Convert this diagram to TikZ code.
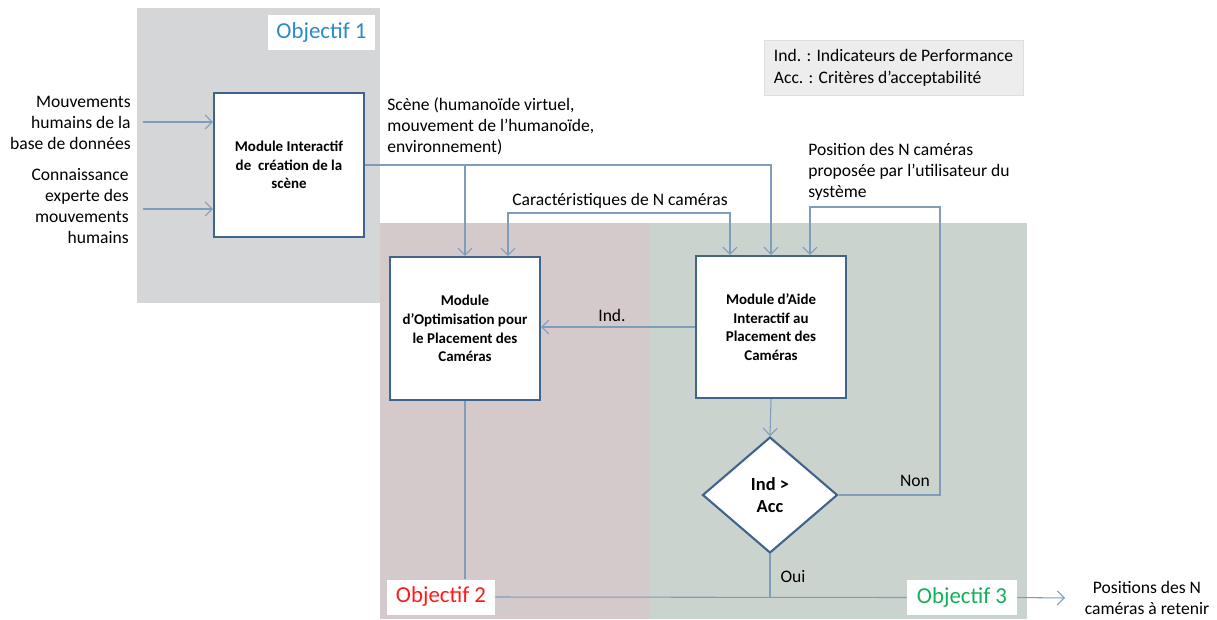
\documentclass[tikz,border=0pt]{standalone}
\usepackage{fontspec}
\setmainfont{Carlito}
\usetikzlibrary{arrows.meta,shapes.geometric}
\definecolor{zoneA}{HTML}{D5D6D8}
\definecolor{zoneB}{HTML}{D5CACB}
\definecolor{zoneC}{HTML}{CBD3CF}
\definecolor{boxLine}{HTML}{41648C}
\definecolor{wireBlue}{HTML}{7F9CBA}
\definecolor{objBlue}{HTML}{2A8AC8}
\definecolor{objRed}{HTML}{FF1A1A}
\definecolor{objGreen}{HTML}{12B05A}
\newcommand{\plainSize}{\fontsize{10}{12}\selectfont}
\newcommand{\boxSize}{\fontsize{8.5}{10.6}\selectfont}

\begin{document}
\begin{tikzpicture}[x=0.02cm, y=-0.02cm]
  \tikzset{module/.style={draw=boxLine, line width=1.2pt, fill=white,
             minimum width=3cm, align=center, font=\boxSize\bfseries, inner sep=2pt},
           decision/.style={diamond, draw=boxLine, line width=1.2pt, fill=white,
             minimum width=2.7cm, minimum height=2.32cm, align=center,
             font=\fontsize{10.5}{12.5}\selectfont\bfseries, inner sep=1pt},
           objbox/.style={fill=white, minimum width=2.16cm, minimum height=0.7cm,
             font=\fontsize{13}{15}\selectfont},
           wire/.style={draw=wireBlue, line width=0.6pt},
           tip/.style={-{Straight Barb[length=4pt,width=8pt]}},
           label/.style={font=\plainSize, inner sep=0pt}}
  \useasboundingbox (0,0) rectangle (1217,619);

  % zones
  \fill[zoneA] (137,8) rectangle (380,303);
  \fill[zoneB] (380,223) rectangle (650,619);
  \fill[zoneC] (650,223) rectangle (1027,619);

  % objectifs
  \node[objbox, text=objBlue] (obj1) at (321.5,32.5) {Objectif 1};
  \node[objbox, text=objRed] (obj2) at (441,597) {Objectif 2};
  \node[objbox, text=objGreen, minimum width=2.2cm] (obj3) at (962,597.5) {Objectif 3};

  % legende
  \node[fill=black!7, draw=black!13, minimum width=5.18cm, minimum height=1.1cm,
        align=left, font=\fontsize{10}{12.5}\selectfont] (legend) at (893.5,67.5)
       {Ind. : Indicateurs de Performance\\Acc. : Critères d’acceptabilité};

  % modules
  \node[module, minimum height=2.88cm] (m1) at (289,165)
       {Module Interactif\\de \ création de la\\scène};
  \node[module, minimum height=2.86cm] (m2) at (465,328.5)
       {Module\\d’Optimisation pour\\le Placement des\\Caméras};
  \node[module, minimum height=2.84cm] (m3) at (771,327)
       {Module d’Aide\\Interactif au\\Placement des\\Caméras};
  \node[decision] (dia) at (770,495) {Ind >\\Acc};

  % entrees
  \coordinate (in1) at (143,122);
  \coordinate (in2) at (143,209);
  \node[label, anchor=north east, align=right] (lab1) at (131,96)
       {Mouvements\\humains de la\\base de données};
  \node[label, anchor=north east, align=right] (lab2) at (129,168)
       {Connaissance\\experte des\\mouvements\\humains};
  \draw[wire, tip] (in1) -- (in1 -| m1.west);
  \draw[wire, tip] (in2) -- (in2 -| m1.west);

  % scene
  \node[label, anchor=north west, align=left] (scene) at (387,97)
       {Scène (humanoïde virtuel,\\mouvement de l’humanoïde,\\environnement)};
  \draw[wire, tip] (m1.east) -| (m3.north);
  \coordinate (split) at (m1.east -| m2.north);
  \draw[wire, tip] (split) -- (m2.north);

  % caracteristiques
  \coordinate (car1) at (508,213);
  \coordinate (car2) at (730,213);
  \node[label, anchor=south] (carlab) at (620,209) {Caractéristiques de N caméras};
  \draw[wire, {Straight Barb[length=4pt,width=8pt]}-{Straight Barb[length=4pt,width=8pt]}]
       (m2.north -| car1) -- (car1) -- (car2) -- (m3.north -| car2);

  % position utilisateur
  \coordinate (pos1) at (810,207);
  \coordinate (pos2) at (940,207);
  \node[label, anchor=north west, align=left] (poslab) at (808,143)
       {Position des N caméras\\proposée par l’utilisateur du\\système};
  \draw[wire, tip] (dia.east) -| (pos2) -- (pos1) -- (m3.north -| pos1);
  \node[label] (non) at (915,481) {Non};

  % indicateurs
  \draw[wire, tip] (m3.west) -- (m3.west -| m2.east);
  \node[label] (indlab) at (612,315) {Ind.};
  \draw[wire, tip] (m3.south) -- (dia.north);

  % sortie
  \draw[wire] (m2.south) -- (m2.south |- obj2.north);
  \draw[wire] (obj2.east) -- (obj3.west);
  \draw[wire] (dia.south) -- (dia.south |- obj3.west);
  \node[label] (oui) at (793,577) {Oui};
  \coordinate (out) at (1065,598);
  \draw[wire, tip] (obj3.east) -- (out);
  \node[label, align=center] (outlab) at (1147,598)
       {Positions des N\\caméras à retenir};
\end{tikzpicture}
\end{document}
